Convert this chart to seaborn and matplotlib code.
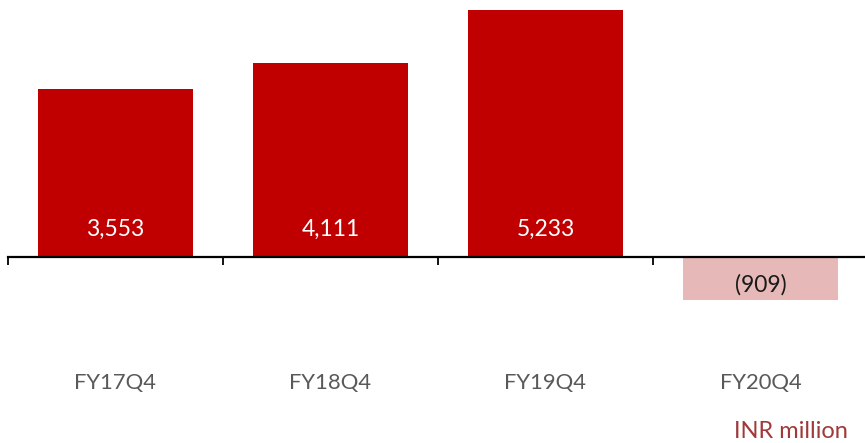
import matplotlib
matplotlib.use("Agg")
import matplotlib.pyplot as plt
import seaborn as sns
import pandas as pd

# data
quarters = ["FY17Q4", "FY18Q4", "FY19Q4", "FY20Q4"]
values = [3553, 4111, 5233, -909]
value_labels = ["3,553", "4,111", "5,233", "(909)"]
bar_colors = ["#C00000", "#C00000", "#C00000", "#E6B9B8"]
label_colors = ["white", "white", "white", "#1a1a1a"]
unit_text = "INR million"

sns.set_theme(style="white")
plt.rcParams["font.family"] = ["Lato", "DejaVu Sans"]

df = pd.DataFrame({"quarter": quarters, "value": values})

fig = plt.figure(figsize=(8.65, 4.43), dpi=100)
ax = fig.add_axes([0, 0, 1, 1])

sns.barplot(data=df, x="quarter", y="value", hue="quarter",
            palette=bar_colors, width=0.72, legend=False, ax=ax,
            saturation=1, edgecolor="none")

ax.set_xlim(-0.537, 3.486)
ax.set_ylim(-3941, 5445)

for s in ["top", "right", "left"]:
    ax.spines[s].set_visible(False)
ax.spines["bottom"].set_position(("data", 0))
ax.spines["bottom"].set_bounds(-0.5, 3.5)
ax.spines["bottom"].set_color("black")
ax.spines["bottom"].set_linewidth(1.6)
ax.spines["bottom"].set_zorder(5)

# boundary ticks between categories (last one falls off the figure)
ax.set_xticks([-0.5, 0.5, 1.5, 2.5])
ax.set_xticklabels([])
ax.tick_params(axis="x", direction="out", length=6, width=1.3, color="black", bottom=True)
ax.set_yticks([])
ax.set_xlabel("")
ax.set_ylabel("")

for i, (v, lab, c) in enumerate(zip(values, value_labels, label_colors)):
    y = 593 if v > 0 else -593
    ax.text(i, y, lab, ha="center", va="center", color=c, fontsize=16.5)

for i, q in enumerate(quarters):
    ax.text(i, -2670, q, ha="center", va="center", color="#595959", fontsize=15.8)

fig.text(0.980, 0.027, unit_text, ha="right", va="center", color="#A0393A", fontsize=17)

fig.savefig("out.png", dpi=100)
